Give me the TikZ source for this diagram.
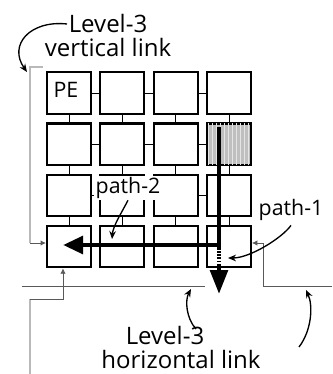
\documentclass[tikz,border=0pt]{standalone}
\usepackage{fontspec}
\setmainfont{Open Sans}
\usepackage{tikz}
\usetikzlibrary{arrows.meta,calc,patterns}

\begin{document}
\begin{tikzpicture}[
  x=0.75pt, y=-0.75pt,
  font=\fontsize{16}{18}\selectfont,
  pe/.style={draw,line width=1.6pt,minimum width=33pt,minimum height=31pt,inner sep=0pt},
  cell24/.style={fill=gray!50,postaction={pattern=vertical lines,pattern color=gray!20}},
  stub/.style={line width=0.6pt},
  route/.style={line width=3.4pt},
  link3/.style={gray!55,line width=1.6pt},
  wire/.style={black!65,line width=0.6pt},
  tip/.style={-{Latex[length=4pt,width=4pt]}},
  callout/.style={line width=1pt,-{Stealth[length=6pt,width=5pt]}},
  tag/.style={fill=white,inner sep=1pt},
  lvl/.style={align=center,font=\fontsize{18}{18}\selectfont},
]
\useasboundingbox (0,0) rectangle (332,374);

% 4x4 array of PEs
\foreach \r in {1,...,4}
  \foreach \c in {1,...,4}
    \node[pe,cell\r\c/.try] (b\r\c) at ({69+53.3*(\c-1)},{93+51.2*(\r-1)}) {};
\node (petext) at ($(b11)+(-3,-3)$) {PE};

% short links between neighbours
\foreach \r in {1,...,4}
  \foreach \c/\d in {1/2,2/3,3/4} {
    \draw[stub] (b\r\c.east) -- (b\r\d.west);
    \draw[stub] (b\c\r.south) -- (b\d\r.north);
  }

% level-3 links
\coordinate (vtop)  at (43,67);
\coordinate (vbend) at (30,243);
\coordinate (vbot)  at (30,374);
\coordinate (hbend) at (30,299);
\coordinate (hl)    at (22,286);
\coordinate (hr)    at (205,286);
\coordinate (rr)    at (332,286);
\coordinate (rbend) at (263,243);
\draw[link3] (vtop) -| (vbend);
\draw[wire,tip] (vbend) -- (vbend -| b41.west);
\draw[link3] (vbot) -- (hbend);
\draw[wire,tip] (hbend) -| ($(b41.south)+(-6,0)$);
\draw[wire] (hl) -- (hr);
\draw[wire] (rr) -| (rbend);
\draw[wire,tip] (rbend) -- (rbend -| b44.east);

% the two paths
\coordinate (src)   at (219,127);
\coordinate (p1end) at (219,294);
\coordinate (p2end) at (63,245);
\draw[route,-{Triangle[length=18pt,width=13pt]}] (src) -- (p1end);
\draw[route,-{Triangle[length=15pt,width=13pt]}] (src) |- (p2end);
\draw[white,line width=3.6pt,dash pattern=on 1pt off 1.3pt] (219,250) -- (219,264);

% labels
\node[lvl] (vlink) at (108,36) {Level-3\\vertical link};
\node[lvl] (hlink) at (181,347) {Level-3\rule{24pt}{0pt}\\horizontal link};
\node[tag] (p2) at (128,188) {path-2};
\node (p1) at (291,210) {path-1};

\coordinate (vl) at (67,24);
\coordinate (hla) at (196,329);
\coordinate (hra) at (299,347);
\draw[callout] (vl) .. controls (30,20) and (8,45) .. (27,72);
\draw[callout] (p2.south) .. controls (122,212) and (113,226) .. (112,239);
\draw[callout] (p1.south) .. controls (282,238) and (250,258) .. (228,258);
\draw[callout] (hla) .. controls (186,318) and (185,300) .. (191,289);
\draw[callout] (hra) .. controls (312,330) and (313,305) .. (306,290);
\end{tikzpicture}
\end{document}
